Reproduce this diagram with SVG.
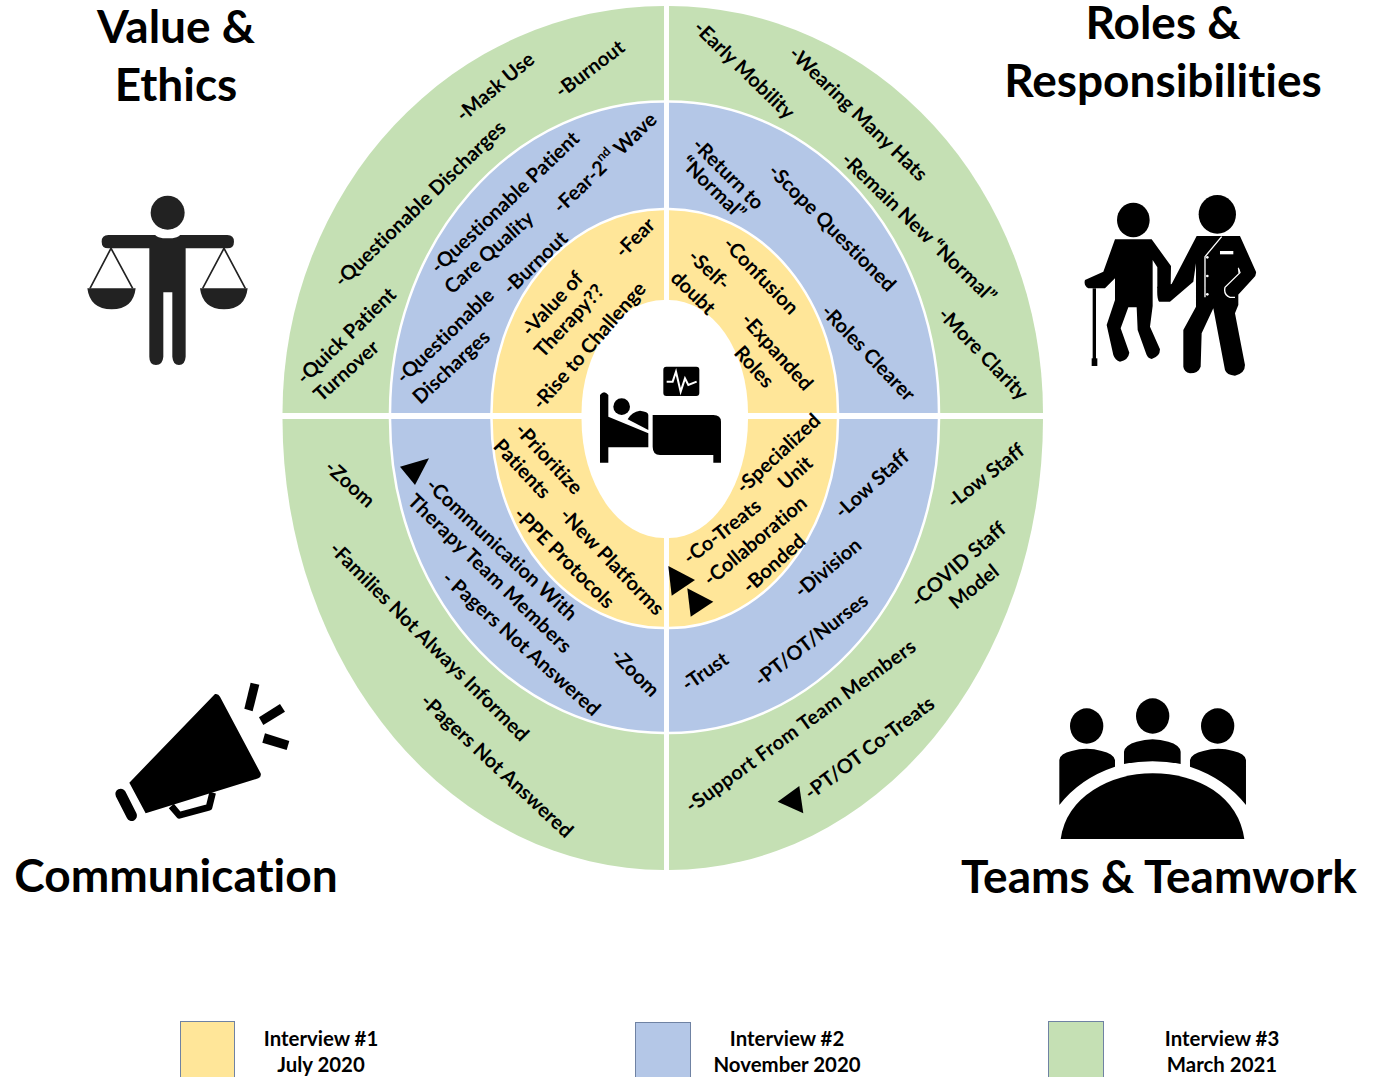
<svg xmlns="http://www.w3.org/2000/svg" width="1376" height="1077" viewBox="0 0 1376 1077">
<style>
.g{fill:#C5E0B4}.b{fill:#B4C7E7}.y{fill:#FFE699}.w{fill:#fff}
.a{fill:none;stroke:#fff;stroke-width:2.5}
text{font-family:"Lato","Liberation Sans",sans-serif;font-weight:700;fill:#000;font-variant-ligatures:none}
.t{font-size:20px;text-anchor:middle;dominant-baseline:central}
.h{font-size:46px;text-anchor:middle}
.l{font-size:20.4px;text-anchor:middle}
.k{fill:#000}
</style>
<rect width="1376" height="1077" fill="#fff"/>
<g id="quadrant-value-ethics">
<path class="g" d="M664,413H282.5A381.5,407 0 0 1 664,6Z"/><path class="b" d="M664,413H390A274,311.5 0 0 1 664,101.5Z"/><path class="y" d="M664,413H491.5A172.5,204 0 0 1 664,209Z"/><path class="w" d="M664,413H581.5A82.5,113 0 0 1 664,300Z"/>
<path class="a" d="M390,413A274,311.5 0 0 1 664,101.5M491.5,413A172.5,204 0 0 1 664,209"/>
<text class="t" transform="translate(589.2,68) rotate(-37)">-Burnout</text>
<text class="t" transform="translate(494.5,86) rotate(-40)">-Mask Use</text>
<text class="t" transform="translate(419.2,203) rotate(-44)">-Questionable Discharges</text>
<text class="t" transform="translate(345.5,335) rotate(-44)">-Quick Patient</text>
<text class="t" transform="translate(345.5,370) rotate(-42)">Turnover</text>
<text class="t" transform="translate(604.2,162) rotate(-44)">-Fear-2<tspan dy="-7" font-size="12.5">nd</tspan><tspan dy="7"> Wave</tspan></text>
<text class="t" transform="translate(504.2,201.7) rotate(-43.5)">-Questionable Patient</text>
<text class="t" transform="translate(488.2,251.7) rotate(-42)">Care Quality</text>
<text class="t" transform="translate(534.5,262) rotate(-44)">-Burnout</text>
<text class="t" transform="translate(444.2,335) rotate(-44)">-Questionable</text>
<text class="t" transform="translate(450.5,366) rotate(-43)">Discharges</text>
<text class="t" transform="translate(634.2,237) rotate(-45)">-Fear</text>
<text class="t" transform="translate(551.5,303) rotate(-47)">-Value of</text>
<text class="t" transform="translate(568.2,320) rotate(-47)">Therapy??</text>
<text class="t" transform="translate(588.2,345) rotate(-49)">-Rise to Challenge</text>
</g>
<g id="quadrant-roles-responsibilities">
<path class="g" d="M669,413H1043A374,407 0 0 0 669,6Z"/><path class="b" d="M669,413H939A270,311.5 0 0 0 669,101.5Z"/><path class="y" d="M669,413H838A169,204 0 0 0 669,209Z"/><path class="w" d="M669,413H748A79,113 0 0 0 669,300Z"/>
<path class="a" d="M939,413A270,311.5 0 0 0 669,101.5M838,413A169,204 0 0 0 669,209"/>
<text class="t" transform="translate(745,69) rotate(44)">-Early Mobility</text>
<text class="t" transform="translate(859,113) rotate(44)">-Wearing Many Hats</text>
<text class="t" transform="translate(919.7,227) rotate(44)">-Remain New “Normal”</text>
<text class="t" transform="translate(984,353) rotate(46)">-More Clarity</text>
<text class="t" transform="translate(729,173) rotate(45)">-Return to</text>
<text class="t" transform="translate(714,187) rotate(44)">“Normal”</text>
<text class="t" transform="translate(833,227) rotate(45)">-Scope Questioned</text>
<text class="t" transform="translate(869,352) rotate(46)">-Roles Clearer</text>
<text class="t" transform="translate(761.7,275) rotate(46)">-Confusion</text>
<text class="t" transform="translate(710,269) rotate(43)">-Self-</text>
<text class="t" transform="translate(694,292) rotate(44)">doubt</text>
<text class="t" transform="translate(778,351) rotate(48)">-Expanded</text>
<text class="t" transform="translate(755,366) rotate(48)">Roles</text>
</g>
<g id="quadrant-communication">
<path class="g" d="M664,419H282.5A381.5,451 0 0 0 664,870Z"/><path class="b" d="M664,419H390A274,314 0 0 0 664,733Z"/><path class="y" d="M664,419H491.5A172.5,209 0 0 0 664,628Z"/><path class="w" d="M664,419H581.5A82.5,119 0 0 0 664,538Z"/>
<path class="a" d="M390,419A274,314 0 0 0 664,733M491.5,419A172.5,209 0 0 0 664,628"/>
<text class="t" transform="translate(350.7,483) rotate(42)">-Zoom</text>
<text class="t" transform="translate(430,640.7) rotate(45)">-Families Not Always Informed</text>
<text class="t" transform="translate(497.7,765) rotate(43)">-Pagers Not Answered</text>
<text class="t" transform="translate(502.5,548.5) rotate(43)">-Communication With</text>
<text class="t" letter-spacing=".3" transform="translate(490.7,572.7) rotate(44)">Therapy Team Members</text>
<text class="t" transform="translate(522,642.7) rotate(42)">- Pagers Not Answered</text>
<text class="t" transform="translate(636,671.7) rotate(45)">-Zoom</text>
<text class="t" transform="translate(549.7,458) rotate(47)">-Prioritize</text>
<text class="t" transform="translate(523,468) rotate(47)">Patients</text>
<text class="t" transform="translate(612.7,560.7) rotate(46)">-New Platforms</text>
<text class="t" transform="translate(565,557) rotate(45)">-PPE Protocols</text>
<polygon class="k" points="400,466.7 429,458.3 415,485"/>
</g>
<g id="quadrant-teams">
<path class="g" d="M669,419H1043A374,451 0 0 1 669,870Z"/><path class="b" d="M669,419H939A270,314 0 0 1 669,733Z"/><path class="y" d="M669,419H838A169,209 0 0 1 669,628Z"/><path class="w" d="M669,419H748A79,119 0 0 1 669,538Z"/>
<path class="a" d="M939,419A270,314 0 0 1 669,733M838,419A169,209 0 0 1 669,628"/>
<text class="t" transform="translate(777.5,452.7) rotate(-43)">-Specialized</text>
<text class="t" transform="translate(794.5,472) rotate(-42)">Unit</text>
<text class="t" transform="translate(721.5,530.7) rotate(-38)">-Co-Treats</text>
<text class="t" transform="translate(754.5,540) rotate(-40)">-Collaboration</text>
<text class="t" transform="translate(773.2,562.7) rotate(-42)">-Bonded</text>
<text class="t" transform="translate(871.2,483) rotate(-42)">-Low Staff</text>
<text class="t" transform="translate(827.2,567) rotate(-40)">-Division</text>
<text class="t" transform="translate(810.5,639) rotate(-38)">-PT/OT/Nurses</text>
<text class="t" transform="translate(704.5,670.7) rotate(-35)">-Trust</text>
<text class="t" transform="translate(985,475) rotate(-38)">-Low Staff</text>
<text class="t" transform="translate(957.5,563.7) rotate(-41)">-COVID Staff</text>
<text class="t" transform="translate(973.2,585.7) rotate(-39)">Model</text>
<text class="t" letter-spacing=".35" transform="translate(800,725) rotate(-36)">-Support From Team Members</text>
<text class="t" transform="translate(868.7,747) rotate(-37)">-PT/OT Co-Treats</text>
<polygon class="k" points="668.3,566 695,580 671.7,595.7"/>
<polygon class="k" points="687.3,588.3 713.3,601.7 690.7,616.7"/>
<polygon class="k" points="777.7,801.7 799.3,786 803.3,813.3"/>
</g>
<g id="icon-patient-bed" transform="translate(590,350) scale(.3333)">
<rect class="k" x="220" y="50" width="108" height="88" rx="9"/>
<polyline points="230,95 248,95 258,65 272,125 285,85 295,105 320,95" fill="none" stroke="#fff" stroke-width="6"/>
<path class="k" d="M30,135Q42,118 55,135V200L175,250V292H55V338H30Z"/>
<circle class="k" cx="95" cy="170" r="25"/>
<path class="k" d="M113,208Q125,185 150,182Q175,185 175,195V240Z"/>
<path class="k" d="M188,195H370Q393,195 393,215V338H370V315H210Q188,315 188,290Z"/>
</g>
<g id="icon-scales" transform="translate(70,170) scale(.3333)" fill="#222">
<path d="M115,195H472Q492,195 492,215T472,235H347V560Q345,585 327,585T307,560V367H280V560Q278,585 258,585T238,560V235H115Q95,235 95,215T115,195Z"/>
<ellipse cx="293" cy="193" rx="38" ry="12" fill="#fff"/>
<circle cx="293" cy="128" r="51"/>
<path d="M52,355H197Q190,418 125,418T52,355ZM390,355H533Q526,418 462,418T390,355Z"/>
<path d="M60,355L123,235L188,355M398,355L462,235L526,355" fill="none" stroke="#222" stroke-width="5"/>
</g>
<g id="icon-care-pair" transform="translate(1070,180) scale(.3333)">
<ellipse class="k" cx="190" cy="120" rx="49" ry="52"/>
<ellipse class="k" cx="442" cy="103" rx="56" ry="58"/>
<path class="k" d="M135,178H245L303,258L302,325H262V262L248,240V378L240,440L270,508Q270,530 245,537Q232,535 228,520L203,450L200,382H175L152,445L178,518Q175,540 150,545Q135,540 130,525L110,435L135,360V295L105,325H55Q40,315 45,300L100,275Z"/>
<rect class="k" x="68" y="325" width="10" height="215"/><rect class="k" x="65" y="535" width="17" height="23"/>
<path class="k" d="M380,168H510L558,275Q560,285 550,295L495,355H470Q458,340 465,320L510,275L505,260V375L495,400L525,555Q525,580 495,587Q470,585 465,570L430,385L395,460L392,560Q385,580 360,580Q342,575 340,560V450L378,380V250L370,305L300,365H268Q260,360 262,320L305,312Z"/>
<path d="M455,170L405,230V352M505,265L510,278L465,322Q460,345 480,352H495" fill="none" stroke="#fff" stroke-width="4"/>
<rect class="w" x="450" y="213" width="40" height="10"/>
<circle class="w" cx="412" cy="288" r="4"/><circle class="w" cx="412" cy="343" r="4"/><circle class="w" cx="412" cy="232" r="4"/>
</g>
<g id="icon-megaphone" transform="translate(100,670) scale(.3333)">
<path class="k" d="M345,72Q355,70 360,80L482,310Q485,320 475,325L137,430L88,338Z"/>
<path d="M214,408L238,436L327,412L338,368" fill="none" stroke="#000" stroke-width="20" stroke-linejoin="round"/>
<line x1="62" y1="372" x2="95" y2="437" stroke="#000" stroke-width="32" stroke-linecap="round"/>
<polygon class="k" points="452,38 478,44 458,124 433,116"/>
<polygon class="k" points="477,142 540,102 555,125 490,165"/>
<polygon class="k" points="495,190 568,213 560,240 487,218"/>
</g>
<g id="icon-team" transform="translate(1050,690) scale(.3333)">
<ellipse class="k" cx="110" cy="108" rx="50" ry="53"/><ellipse class="k" cx="308" cy="78" rx="50" ry="53"/><ellipse class="k" cx="503" cy="108" rx="50" ry="53"/>
<path class="k" d="M28,345V210Q30,190 65,183Q110,170 155,183Q190,190 195,210V230Q90,265 28,345Z"/>
<path class="k" d="M222,222V185Q225,165 260,155Q308,140 355,155Q390,165 392,185V222Q308,205 222,222Z"/>
<path class="k" d="M588,345V210Q585,190 550,183Q505,170 460,183Q425,190 420,210V230Q525,265 588,345Z"/>
<path class="k" d="M32,447Q45,355 130,300Q210,250 308,250Q410,250 490,300Q570,355 583,447Z"/>
</g>
<g id="titles">
<text class="h" x="176" y="43">Value &amp;</text><text class="h" x="176" y="101">Ethics</text>
<text class="h" x="1163" y="39">Roles &amp;</text><text class="h" x="1163" y="97">Responsibilities</text>
<text class="h" x="176" y="892">Communication</text>
<text class="h" x="1159" y="893">Teams &amp; Teamwork</text>
</g>
<g id="legend">
<rect x="180.5" y="1021.5" width="54" height="60" class="y" stroke="#6f82a3"/>
<text class="l" x="321" y="1046">Interview #1</text><text class="l" x="321" y="1072">July 2020</text>
<rect x="635.5" y="1022.5" width="55" height="60" class="b" stroke="#6f82a3"/>
<text class="l" x="787" y="1046">Interview #2</text><text class="l" x="787" y="1072">November 2020</text>
<rect x="1048.5" y="1021.5" width="55" height="60" class="g" stroke="#6f82a3"/>
<text class="l" x="1222" y="1046">Interview #3</text><text class="l" x="1222" y="1072">March 2021</text>
</g>
</svg>
